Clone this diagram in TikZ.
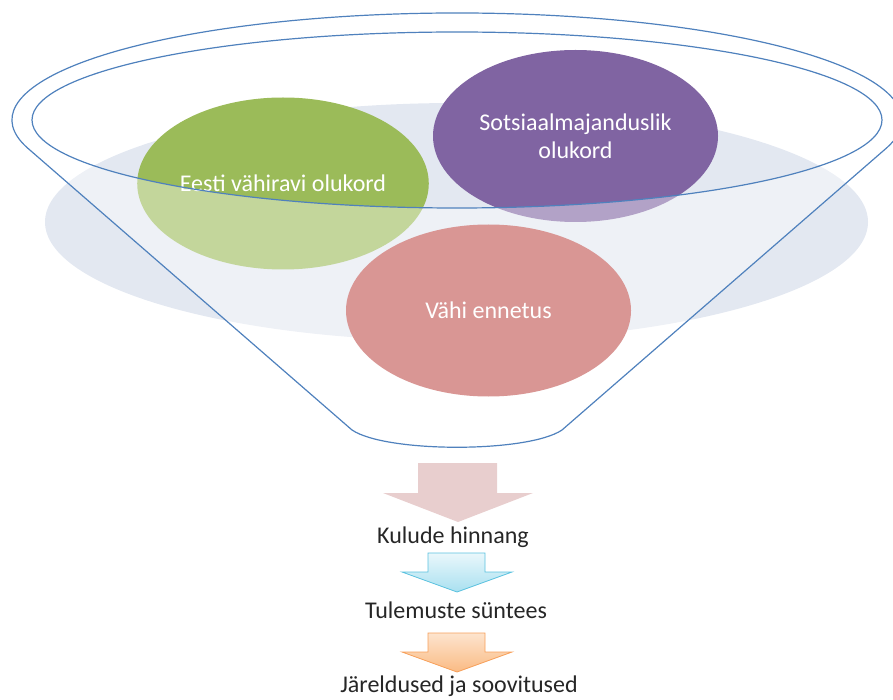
\documentclass[tikz,border=0pt]{standalone}
\usepackage{fontspec}
\setmainfont{Carlito}
\usepackage{tikz}
\usepackage{xcolor}
\definecolor{rim_blue}{HTML}{4F81BD}
\definecolor{bg_gray}{HTML}{E3E8F1}
\definecolor{ball_green}{HTML}{9BBB59}
\definecolor{ball_purple}{HTML}{8064A2}
\definecolor{ball_red}{HTML}{C0504D}
\definecolor{arr_pink}{HTML}{E8CECE}
\definecolor{arr_blue}{HTML}{A9E0F0}
\definecolor{arr_blueline}{HTML}{5BC2DF}
\definecolor{arr_orange}{HTML}{FABB84}
\definecolor{arr_orangeline}{HTML}{F7A05A}
\usetikzlibrary{shapes.geometric}

\begin{document}
\begin{tikzpicture}[x=1pt,y=-1pt,
    ball/.style={ellipse,minimum width=285,minimum height=172,inner sep=0pt,
      text=white,align=center,font=\fontsize{24}{28}\selectfont},
    stagetext/.style={text=black!85,inner sep=0pt,font=\fontsize{24}{28}\selectfont}]
            \useasboundingbox (0,0) rectangle (893,700);
            %taust
            \fill[bg_gray] (456.5,222) ellipse[x radius=411.5,y radius=119];
            %ringid
            \node[ball,fill=ball_green] (eesti) at (283,183.5) {Eesti vähiravi olukord};
            \node[ball,fill=ball_purple] (sotsiaal) at (575.5,136) {Sotsiaalmajanduslik\\olukord};
            \node[ball,fill=ball_red] (ennetus) at (488.5,310.5) {Vähi ennetus};
            %lehtri esikülg
            \fill[white,fill opacity=0.4,even odd rule]
              (27.2,147.7) arc[start angle=165,end angle=375,x radius=445,y radius=107]
              -- (562,430) .. controls (528,453) and (386,453) .. (352,430) -- cycle
              (457,120) ellipse[x radius=425,y radius=88];
            %lehtri jooned
            \draw[rim_blue,line width=1.2pt,line join=round]
              (27.2,147.7) arc[start angle=165,end angle=375,x radius=445,y radius=107]
              -- (562,430) .. controls (528,453) and (386,453) .. (352,430) -- cycle;
            \draw[rim_blue,line width=1.2pt] (457,120) ellipse[x radius=425,y radius=88];
            %nooled ja sammud
            \fill[arr_pink] (418,463)--(497,463)--(497,493)--(533,493)--(458,522)--(383,493)--(418,493)--cycle;
            \node[stagetext] (kulud) at (453,537) {Kulude hinnang};
            \draw[arr_blueline,top color=arr_blue!25,bottom color=arr_blue,line width=0.8pt]
              (428,553)--(485,553)--(485,572)--(512,572)--(457,592)--(402,572)--(428,572)--cycle;
            \node[stagetext] (tulemused) at (456,610) {Tulemuste süntees};
            \draw[arr_orangeline,top color=arr_orange!40,bottom color=arr_orange,line width=0.8pt]
              (428,633)--(485,633)--(485,652)--(512,652)--(457,672)--(402,652)--(428,652)--cycle;
            \node[stagetext] (jareldused) at (459,686) {Järeldused ja soovitused};
        \end{tikzpicture}
\end{document}
